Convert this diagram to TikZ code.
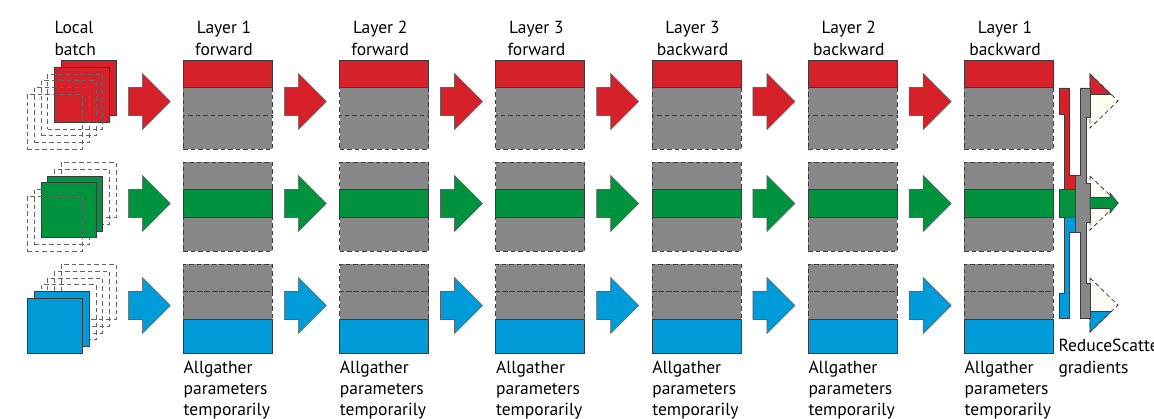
\documentclass[tikz,border=0pt]{standalone}
\usepackage{fontspec}
\setmainfont{PT Sans}
\definecolor{cred}{HTML}{D6202A}
\definecolor{cgreen}{HTML}{00933F}
\definecolor{cblue}{HTML}{009BD9}
\definecolor{cgray}{HTML}{878787}
\definecolor{cline}{HTML}{3C3C3C}
\definecolor{civory}{HTML}{FDFDF4}
\newcommand\blockarr[3]{%
  \draw[arr, fill=#3] (#1,#2-14) -- (#1+14,#2-14) -- (#1+14,#2-28) -- (#1+42,#2)
    -- (#1+14,#2+28) -- (#1+14,#2+14) -- (#1,#2+14) -- cycle;}
\begin{document}
\begin{tikzpicture}[x=1pt,y=-1pt,
  lbl/.style={font=\fontsize{17.5}{21.5}\selectfont, inner sep=0pt, align=left, text=black},
  dsh/.style={draw=cline, line width=0.9pt, dash pattern=on 4.5pt off 3pt},
  gsec/.style={dsh, fill=cgray, minimum width=89pt, inner sep=0pt, anchor=north west, rectangle},
  csec/.style={draw=cline, line width=0.8pt, minimum width=89pt, inner sep=0pt, anchor=north west, rectangle},
  sqsolid/.style={draw=cline, line width=0.8pt, minimum size=55pt, inner sep=0pt, anchor=north west, rectangle},
  sqdash/.style={draw=cline!80, line width=0.9pt, dash pattern=on 4.5pt off 3pt, minimum size=55pt, inner sep=0pt, anchor=north west, rectangle},
  arr/.style={draw=cline!80, line width=0.6pt},
  part/.style={draw=cline, line width=0.7pt},
]
\useasboundingbox[fill=white] (0,0) rectangle (1154,419);

% local batch stacks
\foreach \r/\T/\c/\a/\b in {1/60/cred/0/1, 2/162/cgreen/2/3, 3/264/cblue/4/5}{
  \foreach \k in {0,...,5}{
    \pgfmathsetmacro\sx{61-6.8*\k}
    \pgfmathsetmacro\sy{\T+6.8*\k}
    \ifnum\k=\a\relax
      \node[sqsolid, fill=\c] (S\r-\k) at (\sx,\sy) {};
    \else\ifnum\k=\b\relax
      \node[sqsolid, fill=\c] (S\r-\k) at (\sx,\sy) {};
    \else
      \node[sqdash] (S\r-\k) at (\sx,\sy) {};
    \fi\fi
  }
}

% layer boxes
\foreach \r/\T/\c/\kk in {1/60/cred/1, 2/162/cgreen/2, 3/264/cblue/3}{
  \foreach \i in {0,...,5}{
    \pgfmathsetmacro\X{183+156.2*\i}
    \foreach \s/\dy/\h in {1/0/27.5, 2/27.5/27.5, 3/55/34}{
      \ifnum\s=\kk\relax\else
        \node[gsec, minimum height=\h pt] (L\i-\r-\s) at (\X,\T+\dy) {};
      \fi
    }
    \foreach \s/\dy/\h in {1/0/27.5, 2/27.5/27.5, 3/55/34}{
      \ifnum\s=\kk\relax
        \node[csec, fill=\c, minimum height=\h pt] (L\i-\r-\s) at (\X,\T+\dy) {};
      \fi
    }
  }
}

% block arrows
\foreach \r/\T/\c in {1/60/cred, 2/162/cgreen, 3/264/cblue}{
  \pgfmathsetmacro\yc{\T+41.5}
  \blockarr{128.3}{\yc}{\c}
  \foreach \i in {0,...,4}{
    \pgfmathsetmacro\xa{284.3+156.2*\i}
    \blockarr{\xa}{\yc}{\c}
  }
}

% ReduceScatter part: dashed arrowheads
\foreach \yc in {101,203,305}{
  \draw[dsh, line width=0.8pt, fill=civory] (1090,\yc-27) -- (1118,\yc) -- (1090,\yc+27) -- cycle;
}
\draw[part, fill=cred] (1090,74) -- (1111,94.5) -- (1090,94.5) -- cycle;
\draw[part, fill=cblue] (1090,332) -- (1111,311.5) -- (1090,311.5) -- cycle;
% gray bar
\draw[part, fill=cgray] (1080,88) -- (1090,88) -- (1090,117) -- (1086,117) -- (1086,183)
  -- (1090,183) -- (1090,222) -- (1086,222) -- (1086,283) -- (1090,283) -- (1090,318)
  -- (1080,318) -- (1080,232) -- (1075,232) -- (1075,175) -- (1080,175) -- cycle;
% red part
\draw[part, fill=cred] (1059,88) -- (1069,88) -- (1069,175) -- (1075,175) -- (1075,189)
  -- (1064,189) -- (1064,114) -- (1059,114) -- cycle;
% blue part
\draw[part, fill=cblue] (1064,217) -- (1075,217) -- (1075,232) -- (1069,232) -- (1069,318)
  -- (1059,318) -- (1059,293) -- (1064,293) -- cycle;
% green part
\draw[part, fill=cgreen] (1059,189) rectangle (1075,217);
\draw[part, fill=cgreen] (1090,197.5) -- (1110,197.5) -- (1110,193) -- (1118,203)
  -- (1110,213) -- (1110,208.5) -- (1090,208.5) -- cycle;

% labels (base anchor = baseline of last line)
\node[lbl, anchor=base west] (lb) at (54.3,55.5) {Local\\batch};
\foreach \i/\n/\d in {0/1/forward, 1/2/forward, 2/3/forward, 3/3/backward, 4/2/backward, 5/1/backward}{
  \pgfmathsetmacro\tx{224+156.2*\i}
  \node[lbl, align=center, anchor=base] (t\i) at (\tx,55.5) {Layer \n\\\d};
  \pgfmathsetmacro\ax{183.5+156.2*\i}
  \node[lbl, anchor=base west] (a\i) at (\ax,416) {Allgather\\parameters\\temporarily};
}
\node[lbl, anchor=base west] (rs) at (1058.3,373.5) {ReduceScatter\\gradients};
\end{tikzpicture}
\end{document}
